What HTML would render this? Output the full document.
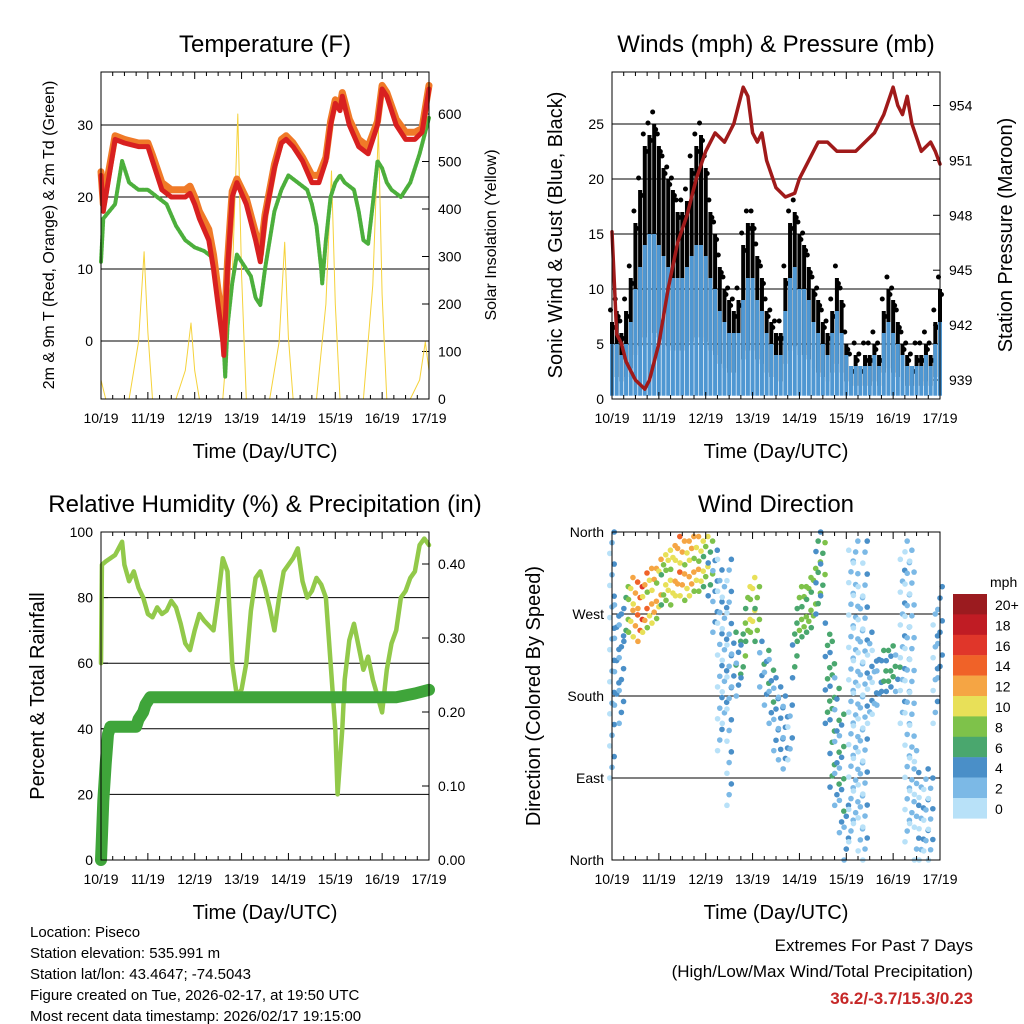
<!DOCTYPE html>
<html><head><meta charset="utf-8"><style>
html,body{margin:0;padding:0;background:#fff;}
svg{display:block;font-family:"Liberation Sans",Arial,sans-serif;}
</style></head><body>
<svg id="root" width="1024" height="1024" viewBox="0 0 1024 1024" xmlns="http://www.w3.org/2000/svg"></svg>
<script>
// ---------- DATA ----------
const dayTicks = ["10/19","11/19","12/19","13/19","14/19","15/19","16/19","17/19"];
const tempTimes = [0,0.05,0.15,0.3,0.5,0.8,1.0,1.1,1.3,1.5,1.8,1.9,2.0,2.1,2.3,2.4,2.5,2.6,2.62,2.7,2.8,2.9,3.1,3.3,3.4,3.5,3.7,3.85,3.95,4.1,4.2,4.3,4.5,4.65,4.8,4.9,5.0,5.1,5.15,5.3,5.5,5.7,5.9,6.0,6.1,6.3,6.5,6.7,6.85,7.0];
const temp2m = [23,18,22,28,27.5,27,27,25,21,20,20,20.5,19,17,14,10,5,0,-2,10,20,22,19,14,11,17,24,27.5,28,27,26,25,22,22,25,30,33,32,34,30,27,26,30,35,34,30,28,28,29,35];
const temp9m = [23.5,19,23,28.5,28,27.5,27.5,25.8,22,21,21,21.5,20,18,15.5,12,7,2,0,11,20.8,22.5,19.8,15,12,17.5,24.5,28,28.5,27.5,26.5,25.5,23,23,25.5,30.5,33.5,32.5,34.5,30.8,28,27,30.5,35.5,34.5,30.8,29,29,29.5,35.5];
const dewTimes = [0,0.05,0.3,0.45,0.6,0.8,1.0,1.2,1.4,1.5,1.6,1.8,2.0,2.2,2.4,2.5,2.6,2.65,2.7,2.8,2.9,3.0,3.2,3.3,3.4,3.5,3.7,3.85,4.0,4.2,4.4,4.5,4.6,4.7,4.72,4.8,4.9,5.0,5.1,5.2,5.4,5.5,5.6,5.7,5.8,5.9,6.0,6.1,6.2,6.4,6.6,6.8,7.0];
const dewPoint = [11,17,19,25,22,21,21,20,19,17.5,16,14,13,12.5,11.5,8,2,-5,2,8,12,11,9,6,5,10,18,21,23,22,21,19,16,10,8,14,20,22,23,22,21,18,14,13.5,19,25,24,22,21,20,22,26,31];
const solarTimes = [0,0.1,0.6,0.8,0.92,1.0,1.1,1.6,1.8,1.92,2.0,2.1,2.6,2.8,2.92,3.0,3.1,3.6,3.8,3.92,4.0,4.1,4.6,4.8,4.92,5.0,5.1,5.6,5.8,5.92,6.0,6.1,6.6,6.8,6.92,7.0];
const solarVals  = [40,0,0,120,310,140,0,0,60,160,60,0,0,250,600,260,0,0,120,330,130,0,0,200,480,200,0,0,240,570,220,0,0,40,120,60];
const gustHi = [8,9,7,9,12,17,20,24,25,26,24,22,21,20,18,18,19,22,24,25,22,18,16,13,11,10,9,10,15,17,17,14,12,9,8,7,7,12,17,18,16,15,13,11,10,8,7,9,12,10,6,4,5,4,5,5,6,5,9,11,10,8,6,5,4,5,5,6,5,8,11];
const windHi = [5,5,4,5,7,10,12,14,15,15,14,13,12,11,11,11,12,13,14,14,13,11,10,8,7,6,6,6,9,11,11,9,8,6,5,4,4,8,11,12,10,10,9,7,6,5,4,6,8,6,4,3,3,3,3,3,4,3,6,7,6,5,4,3,3,3,3,4,3,5,7];
const presTimes = [0,0.1,0.2,0.3,0.5,0.7,0.8,0.9,1.0,1.2,1.4,1.6,1.8,2.0,2.2,2.4,2.6,2.8,2.9,3.0,3.1,3.2,3.3,3.5,3.7,3.9,4.0,4.2,4.4,4.6,4.8,5.0,5.2,5.4,5.6,5.8,6.0,6.1,6.2,6.3,6.4,6.6,6.8,6.9,7.0];
const pressure = [947.1,941.5,941,940,939,938.5,939,940,941,944,946.5,948,950,951.5,952.5,952,953,955,954.5,952.5,952,952.5,951,949.5,949,949.2,950,951,952,952,951.5,951.5,951.5,952,952.5,953.5,955,954,953.5,954.5,953,951.5,952,951.5,950.8];
const rhTimes = [0,0.02,0.1,0.3,0.45,0.5,0.6,0.7,0.8,0.9,1.0,1.1,1.2,1.3,1.4,1.5,1.6,1.7,1.8,1.9,2.0,2.1,2.2,2.4,2.5,2.6,2.7,2.8,2.85,2.9,3.0,3.1,3.2,3.3,3.4,3.5,3.6,3.7,3.8,3.9,4.0,4.1,4.2,4.3,4.4,4.5,4.6,4.7,4.8,4.9,5.0,5.05,5.15,5.2,5.3,5.4,5.5,5.6,5.7,5.8,5.9,6.0,6.1,6.2,6.3,6.4,6.5,6.6,6.7,6.8,6.9,7.0];
const rhVals = [60,90,91,93,97,90,85,88,83,80,75,74,77,75,76,79,77,72,66,64,70,75,73,70,80,92,88,60,55,50,52,60,76,86,88,83,77,70,80,88,90,92,95,85,80,82,86,84,80,60,40,20,40,55,67,72,65,58,62,55,50,45,58,66,70,80,82,86,88,96,98,96];
const precipTimes = [0,0.02,0.05,0.1,0.15,0.2,0.75,0.8,0.9,0.95,1.05,6.3,6.7,7.0];
const precipVals = [0,0.03,0.08,0.13,0.17,0.18,0.18,0.19,0.2,0.21,0.22,0.22,0.225,0.23];
const dirLo = [90,170,150,240,250,245,240,250,255,260,265,280,285,280,290,290,285,290,295,295,300,290,250,120,150,60,190,180,200,240,250,240,190,170,150,120,110,100,110,200,240,245,250,255,270,290,150,80,60,30,0,20,40,10,0,150,160,170,185,185,190,185,150,20,40,0,0,10,0,150,200];
const dirHi = [360,280,270,300,310,305,300,315,320,320,330,335,340,345,355,350,350,355,355,350,355,350,340,330,300,330,250,240,260,300,310,300,240,230,220,200,190,180,170,260,300,300,310,320,350,360,260,240,200,160,60,340,350,300,350,250,230,220,230,230,235,225,330,350,340,120,80,100,90,270,300];
const dirSpd = [2,3,3,6,10,12,14,12,10,11,10,8,9,10,12,11,10,11,10,9,8,6,3,2,2,2,4,4,6,8,9,7,4,4,4,3,3,3,2,5,7,7,7,7,6,6,5,5,4,4,3,1,1,1,2,2,2,3,5,5,5,4,2,1,1,2,2,2,2,2,3];
const cbLabels = ["20+","18","16","14","12","10","8","6","4","2","0"];
const cbColors = ["#9b1b1f","#c01c24","#e0362a","#f06228","#f5a544","#e8e058","#7ec24a","#4aa76e","#4a8fc8","#7cb9e6","#b8e1f8"];
const extremes = "36.2/-3.7/15.3/0.23";

// ---------- HELPERS ----------
const NS = "http://www.w3.org/2000/svg";
const root = document.getElementById("root");
function el(tag, attrs, parent){
  const e = document.createElementNS(NS, tag);
  for (const k in attrs) e.setAttribute(k, attrs[k]);
  (parent||root).appendChild(e);
  return e;
}
function txt(s, x, y, size, anchor, parent, extra){
  const t = el("text", Object.assign({x:x, y:y, "font-size":size, "text-anchor":anchor||"middle", fill:"#000"}, extra||{}), parent);
  t.textContent = s;
  return t;
}
function panel(name, x0, x1, y0, y1){
  const g = el("g", {});
  
  
  return {g, x0, x1, y0, y1, xs: t => x0 + (x1-x0)*t/7};
}
function xAxis(p){
  const g = el("g", {}, p.g);
  
  
  dayTicks.forEach((lab, i) => {
    const x = p.xs(i);
    el("line", {x1:x, y1:p.y1, x2:x, y2:p.y1-7, stroke:"#000"}, g);
    el("line", {x1:x, y1:p.y0, x2:x, y2:p.y0+7, stroke:"#000"}, g);
    for (let m=1; m<4 && i<7; m++){
      const xm = p.xs(i + m/4);
      el("line", {x1:xm, y1:p.y1, x2:xm, y2:p.y1-4, stroke:"#000"}, g);
      el("line", {x1:xm, y1:p.y0, x2:xm, y2:p.y0+4, stroke:"#000"}, g);
    }
    const t = txt(lab, x, p.y1+24, 14, "middle", g);
    
    
  });
  const tt = txt("Time (Day/UTC)", (p.x0+p.x1)/2, p.y1+59, 20, "middle", g);
  
  
}
function yAxis(p, vals, labels, yf, side, name, grid){
  const g = el("g", {}, p.g);
  
  
  vals.forEach((v, i) => {
    const y = yf(v);
    if (grid) el("line", {x1:p.x0, y1:y, x2:p.x1, y2:y, stroke:"#000", "stroke-width":1}, g);
    if (side === "left"){
      el("line", {x1:p.x0, y1:y, x2:p.x0+7, y2:y, stroke:"#000"}, g);
      txt(labels[i], p.x0-8, y+5, 14, "end", g);
    } else {
      el("line", {x1:p.x1, y1:y, x2:p.x1-7, y2:y, stroke:"#000"}, g);
      txt(labels[i], p.x1+9, y+5, 14, "start", g);
    }
  });
}
function frame(p){
  const r = el("rect", {x:p.x0, y:p.y0, width:p.x1-p.x0, height:p.y1-p.y0, fill:"none", stroke:"#000", "stroke-width":1}, p.g);
  
  
}
function title(p, s){
  const t = txt(s, (p.x0+p.x1)/2, p.y0-20, 24, "middle", p.g);
  
  
}
function vtitle(s, x, y, size, name, parent){
  const t = txt(s, x, y, size, "middle", parent, {transform:`rotate(-90 ${x} ${y})`});
  
  
}
function polyline(p, times, vals, yf, color, w, name){
  const pts = times.map((t,i) => p.xs(t).toFixed(1)+","+yf(vals[i]).toFixed(1)).join(" ");
  const l = el("polyline", {points:pts, fill:"none", stroke:color, "stroke-width":w, "stroke-linejoin":"round", "stroke-linecap":"round"}, p.g);
  
  
  return l;
}
function spdColor(s){
  let idx = Math.round(Math.max(0, Math.min(20, s))/2);
  return cbColors[10-idx];
}

// ---------- PANEL 1: TEMPERATURE ----------
{
  const p = panel("temperature-panel", 101, 429, 72, 399);
  const yT = v => 341 - 7.2*v;
  const yS = v => 399 - 0.475*v;
  yAxis(p, [0,10,20,30], ["0","10","20","30"], yT, "left", "y-axis-temperature", true);
  yAxis(p, [0,100,200,300,400,500,600], ["0","100","200","300","400","500","600"], yS, "right", "y-axis-solar", false);
  polyline(p, solarTimes, solarVals, yS, "#f5d23a", 1, "solar-insolation-line");
  polyline(p, dewTimes, dewPoint, yT, "#4caf3c", 4, "dewpoint-line").setAttribute("stroke-dasharray","2 1.5");
  polyline(p, tempTimes, temp9m, yT, "#f07a28", 7, "temp-9m-line");
  polyline(p, tempTimes, temp2m, yT, "#d82020", 5, "temp-2m-line");
  frame(p); xAxis(p); title(p, "Temperature (F)");
  vtitle("2m & 9m T (Red, Orange) & 2m Td (Green)", 54, 235, 16, "y-axis-title-left", p.g);
  vtitle("Solar Insolation (Yellow)", 496, 235, 16, "y-axis-title-right", p.g);
}

// ---------- PANEL 2: WINDS ----------
{
  const p = panel("winds-panel", 612, 940, 72, 399);
  const yW = v => 399 - 11*v;
  const yP = v => 380 - 18.3*(v-939);
  yAxis(p, [0,5,10,15,20,25], ["0","5","10","15","20","25"], yW, "left", "y-axis-wind", true);
  yAxis(p, [939,942,945,948,951,954], ["939","942","945","948","951","954"], yP, "right", "y-axis-pressure", false);
  const gg = el("g", {}, p.g);
  
  
  gustHi.forEach((v,i) => {
    const x = p.xs(i*0.1);
    const lo = windHi[i]*0.4;
    const r = el("rect", {x:x-2, y:yW(v-1), width:4, height:yW(lo)-yW(v-1), fill:"#000"}, gg);
    
    
    el("circle", {cx:x-1.5, cy:yW(v)-1, r:2.5, fill:"#000"}, gg);
    el("circle", {cx:x+1.5, cy:yW(v-1.5), r:2.5, fill:"#000"}, gg);
  });
  const wg = el("g", {}, p.g);
  
  
  windHi.forEach((v,i) => {
    const x = p.xs(i*0.1);
    const r = el("rect", {x:x-2, y:yW(v), width:4, height:yW(0.3)-yW(v), fill:"#4f97d2"}, wg);
    
    
  });
  polyline(p, presTimes, pressure, yP, "#a01a1a", 3.5, "pressure-line");
  frame(p); xAxis(p); title(p, "Winds (mph) & Pressure (mb)");
  vtitle("Sonic Wind & Gust (Blue, Black)", 562, 235, 20, "y-axis-title-left", p.g);
  vtitle("Station Pressure (Maroon)", 1012, 235, 20, "y-axis-title-right", p.g);
}

// ---------- PANEL 3: RH & PRECIP ----------
{
  const p = panel("humidity-precip-panel", 101, 429, 532, 860);
  const yR = v => 860 - 3.28*v;
  const yQ = v => 860 - 740*v;
  yAxis(p, [0,20,40,60,80,100], ["0","20","40","60","80","100"], yR, "left", "y-axis-humidity", true);
  yAxis(p, [0,0.1,0.2,0.3,0.4], ["0.00","0.10","0.20","0.30","0.40"], yQ, "right", "y-axis-precip", false);
  polyline(p, rhTimes, rhVals, yR, "#92c94a", 4.5, "humidity-line");
  polyline(p, precipTimes, precipVals, yQ, "#3fa53a", 12, "precip-line");
  frame(p); xAxis(p); title(p, "Relative Humidity (%) & Precipitation (in)");
  vtitle("Percent & Total Rainfall", 44, 696, 20, "y-axis-title-left", p.g);
}

// ---------- PANEL 4: WIND DIRECTION ----------
{
  const p = panel("wind-direction-panel", 612, 940, 532, 860);
  const yD = d => 860 - 328*d/360;
  yAxis(p, [0,90,180,270,360], ["North","East","South","West","North"], yD, "left", "y-axis-direction", false);
  [90,180,270].forEach(d => el("line", {x1:p.x0, y1:yD(d), x2:p.x1, y2:yD(d), stroke:"#000"}, p.g));
  const dg = el("g", {}, p.g);
  
  
  dirLo.forEach((lo,i) => {
    const hi = dirHi[i];
    const n = Math.max(2, Math.round((hi-lo)/12));
    for (let k=0; k<=n; k++){
      const d = lo + (hi-lo)*k/n;
      const x = p.xs(i*0.1) + ((k%3)-1)*2.2;
      const s = dirSpd[i] + ((k%3)-1)*1.5;
      const c = el("circle", {cx:x, cy:yD(d), r:2.8, fill:spdColor(s)}, dg);
      
      
    }
  });
  frame(p); xAxis(p); title(p, "Wind Direction");
  vtitle("Direction (Colored By Speed)", 540, 696, 20, "y-axis-title-left", p.g);
  const cb = el("g", {});
  
  
  txt("mph", 990, 587, 14, "start", cb);
  cbColors.forEach((c,i) => {
    const y = 594 + i*20.4;
    const r = el("rect", {x:953, y:y, width:34, height:20.6, fill:c}, cb);
    
    
    txt(cbLabels[i], 995, y+16, 14, "start", cb);
  });
}

// ---------- FOOTER ----------
{
  const g = el("g", {});
  
  
  ["Location: Piseco","Station elevation: 535.991 m","Station lat/lon: 43.4647; -74.5043","Figure created on Tue, 2026-02-17, at 19:50 UTC","Most recent data timestamp: 2026/02/17 19:15:00"]
    .forEach((s,i) => txt(s, 30, 937 + i*21, 15, "start", g));
  const e = el("g", {});
  
  
  txt("Extremes For Past 7 Days", 973, 951, 17, "end", e);
  txt("(High/Low/Max Wind/Total Precipitation)", 973, 977, 17, "end", e);
  const r = txt(extremes, 973, 1004, 17, "end", e, {fill:"#c62828", "font-weight":"bold"});
  
  
}
</script>
</body></html>
